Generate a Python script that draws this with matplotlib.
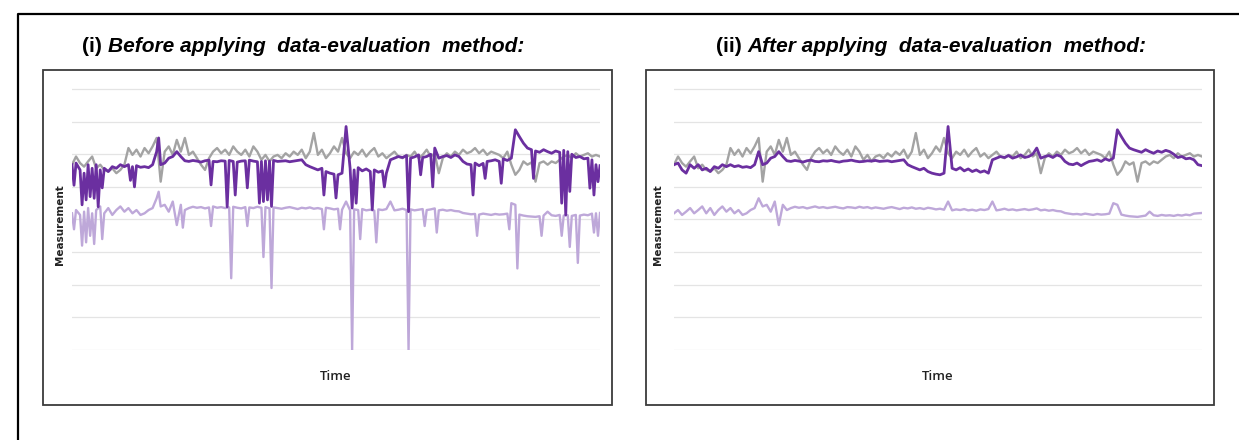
import matplotlib
matplotlib.use("Agg")
from matplotlib import pyplot as plt
from matplotlib.patches import Rectangle
from matplotlib.lines import Line2D
import numpy as np

# grey reference series (same in both panels)
gray = [56.8, 59.3, 57.3, 56.2, 57.8, 59.3, 55.7, 56.8, 55.2, 54.7, 55.7, 54.2, 55.2, 56.8,
        61.9, 59.8, 61.4, 59.3, 61.9, 60.3, 62.4, 65.0, 51.6,
        60.8, 62.4, 59.8, 64.4, 60.8, 65.0, 59.8, 60.8, 58.8, 56.8,
        55.2, 58.8, 60.8, 61.9, 60.3, 61.4, 59.8, 62.4, 60.8, 59.8,
        61.4, 59.3, 62.4, 60.8, 58.3, 59.8, 57.8, 59.3, 59.8, 58.8,
        60.3, 59.3, 60.8, 59.8, 61.4, 58.8, 60.8, 66.5, 59.8, 61.4,
        58.8, 60.3, 62.4, 60.8, 65.0, 60.3, 58.8, 60.8, 59.8, 61.4,
        59.3, 60.8, 61.9, 59.3, 60.3, 58.8, 59.8, 60.8, 59.3, 58.8,
        59.8, 59.3, 60.8, 58.8, 59.8, 61.4, 59.3, 60.3, 54.2, 58.8,
        60.3, 59.3, 60.8, 59.8, 61.4, 60.3, 60.8, 61.9, 60.3, 61.4,
        59.8, 60.8, 60.3, 59.8, 58.8, 60.8, 56.8, 53.7, 55.2, 57.8,
        56.8, 57.5, 51.6, 57.3, 57.8, 56.8, 57.8, 57.3, 58.3, 59.3,
        59.8, 58.8, 60.3, 59.3, 59.8, 60.3, 59.3, 59.8, 59.3]

# dark purple series after evaluation
dark_clean = [56.8, 57.3, 55.2, 54.2, 56.8, 55.7, 56.8, 55.2, 55.7, 54.7, 56.2, 55.7, 56.8,
              56.2, 56.8, 56.2, 56.5, 56.0, 56.2, 55.9, 56.8,
              60.8, 56.8, 57.3, 58.8, 59.3, 60.8, 59.3, 58.0,
              57.8, 58.1, 57.9, 57.6, 58.0, 58.2, 57.8, 57.7, 58.0, 57.9, 58.1, 57.8, 57.6, 57.9,
              58.0, 58.2, 57.9, 57.7, 57.8, 58.0, 57.9, 58.1, 57.8, 57.9, 58.0, 57.7, 57.9, 58.1,
              58.3, 56.8, 56.2, 55.7, 55.2, 55.7, 54.7, 54.2, 53.9, 53.7,
              54.2, 68.5, 55.7, 55.2, 55.9, 54.9, 55.5, 54.7, 55.2, 54.5, 54.9, 54.2, 58.3,
              58.8, 59.3, 59.0, 59.6, 58.8, 59.2, 59.8, 59.0, 59.3, 60.0, 61.9, 58.8, 59.3,
              59.6, 59.0, 59.8, 59.3,
              57.8, 57.0, 56.8, 57.3, 56.5, 57.2, 57.8,
              58.0, 58.3, 57.8, 58.6, 58.1, 58.8,
              67.5,
              65.4, 63.4, 61.9, 61.4,
              61.0, 60.6, 61.4, 60.8, 60.3, 61.0, 60.6, 61.2, 60.8, 60.0,
              59.0, 59.3, 58.6, 58.8, 58.3,
              56.8, 56.5]

# light purple series after evaluation
light_clean = [41.9, 42.9, 41.4, 42.4, 43.5, 41.9, 42.9, 44.0, 41.9, 43.5, 41.4, 42.9, 44.0,
               42.4, 43.5, 41.9, 42.9, 41.4, 41.9, 42.9, 43.5,
               46.5, 44.0, 44.5, 42.4, 45.5, 38.3, 44.5, 42.9,
               43.5, 43.9, 43.6, 43.8, 43.4, 43.7, 44.0, 43.6, 43.8, 43.5, 43.7, 43.9, 43.6,
               43.4, 43.8, 43.7, 43.5, 43.9, 43.6, 43.8, 43.4, 43.7, 43.5, 43.3, 43.6, 43.8,
               43.5, 43.2, 43.6, 43.4, 43.7, 43.3, 43.5, 43.2, 43.6, 43.4, 43.1, 43.3,
               43.0, 45.5, 42.8, 43.1, 42.9, 43.2, 42.8, 43.0, 42.7, 43.1, 42.9, 43.2, 45.5,
               42.8, 43.0, 43.3, 42.9, 43.1, 42.8, 43.0, 43.2, 42.9, 43.1, 43.4, 42.8, 43.0,
               42.7, 42.9, 42.6, 42.5,
               42.0, 41.8, 41.6, 41.7, 41.5, 41.8, 41.6, 41.4, 41.7, 41.5, 41.6, 41.8, 45.0,
               44.5, 41.5, 41.2, 41.0, 40.9, 40.8, 41.0, 41.2, 42.4, 41.3, 41.1, 41.4, 41.2,
               41.3, 41.1, 41.4, 41.2, 41.5, 41.3, 41.8, 41.9, 42.0]

# outlier readings present before evaluation (time position, value)
dark_outliers = [(0.5, 50.5), (2.5, 44.5), (3.5, 46.0), (4.5, 47.0), (5.5, 46.5), (6.5, 43.9),
                 (7.5, 49.7), (14.5, 52.0), (15.5, 50.0), (21.5, 65.0), (34.5, 50.6),
                 (38.5, 43.9), (40.5, 47.5), (43.5, 49.7), (46.5, 45.0), (47.5, 45.5),
                 (48.5, 46.0), (49.5, 44.0), (62.5, 47.5), (65.5, 46.6), (69.5, 43.5),
                 (70.5, 45.0), (74.5, 43.0), (77.5, 50.0), (83.5, 42.4), (86.5, 53.7),
                 (89.5, 50.0), (99.5, 47.5), (102.5, 52.6), (106.5, 51.1), (114.5, 52.6),
                 (121.5, 45.0), (122.5, 41.4), (123.5, 48.6), (128.5, 49.6), (129.5, 47.5),
                 (130.5, 51.6)]
light_outliers = [(0.5, 37.0), (2.5, 32.0), (3.5, 33.0), (4.5, 35.0), (5.5, 32.5), (7.5, 34.0),
                  (21.5, 48.5), (27.5, 37.5), (34.5, 38.0), (39.5, 22.0), (43.5, 38.0),
                  (47.5, 28.5), (49.5, 19.0), (62.5, 37.0), (66.5, 37.0), (69.5, 0.0),
                  (71.5, 34.0), (75.5, 33.0), (83.5, 0.0), (87.5, 38.0), (90.5, 36.0),
                  (100.5, 35.0), (108.5, 37.0), (110.5, 25.0), (116.5, 35.0), (121.5, 35.0),
                  (123.5, 31.6), (125.5, 26.7), (129.5, 36.0), (130.5, 35.0)]

titles = [("(i) ", "Before applying  data-evaluation  method:"),
          ("(ii) ", "After applying  data-evaluation  method:")]


def with_outliers(base, outliers):
    pts = sorted(list(enumerate(base)) + list(outliers))
    xs, ys = zip(*pts)
    return np.array(xs, dtype=float), np.array(ys)


x = np.arange(len(gray))
dark_raw = with_outliers(dark_clean, dark_outliers)
light_raw = with_outliers(light_clean, light_outliers)

W, H = 1239, 440
fig = plt.figure(figsize=(W / 100, H / 100), dpi=100)


def fx(px):
    return px / W


def fy(py):
    return (H - py) / H


# outer frame (left and top)
fig.add_artist(Line2D([fx(18), fx(18), fx(1239)], [fy(440), fy(14), fy(14)],
                      color="black", lw=1.6, transform=fig.transFigure))

panels = [
    dict(box=(43, 612), plot=(72, 600), dark=dark_raw, light=light_raw,
         title_cx=303, ylab_x=60, time_x=336),
    dict(box=(646, 1214), plot=(674, 1202), dark=(x, dark_clean), light=(x, light_clean),
         title_cx=931, ylab_x=658, time_x=938),
]

top_px, bot_px = 89, 350  # pixel rows of gridlines 80 and 0

for p in panels:
    b0, b1 = p["box"]
    fig.add_artist(Rectangle((fx(b0), fy(405)), fx(b1 - b0), (405 - 70) / H,
                             fill=False, ec="#3c3c3c", lw=1.3, transform=fig.transFigure))

    p0, p1 = p["plot"]
    ymax = 82
    unit = (bot_px - top_px) / 80
    ax = fig.add_axes([fx(p0), fy(bot_px), fx(p1 - p0), ymax * unit / H])
    ax.set_xlim(0, len(gray) - 1)
    ax.set_ylim(0, ymax)
    ax.set_yticks(np.arange(0, 81, 10))
    ax.set_xticks([])
    ax.tick_params(left=False, labelleft=False)
    for s in ax.spines.values():
        s.set_visible(False)
    ax.grid(axis="y", color="#e4e4e4", lw=0.9)
    ax.set_axisbelow(True)

    ax.plot(*p["light"], color="#bea8d9", lw=1.7, zorder=2)
    ax.plot(x, gray, color="#a3a3a3", lw=1.7, zorder=3)
    ax.plot(*p["dark"], color="#6b2fa0", lw=2.0, zorder=4)

    fig.text(fx(p["ylab_x"]), fy(225), "Measurement", rotation=90, ha="center", va="center",
             fontsize=7.5, fontweight="bold", color="#222222")
    fig.text(fx(p["time_x"]), fy(376), "Time", ha="center", va="center",
             fontsize=9.5, fontweight="semibold", family="Open Sans", color="#222222")

# titles: upright numeral then bold italic text
fig.canvas.draw()
renderer = fig.canvas.get_renderer()
for (lead, rest), p in zip(titles, panels):
    t1 = fig.text(0, fy(47), lead, ha="left", va="center", fontsize=15,
                  fontweight="bold", family="Liberation Sans")
    t2 = fig.text(0, fy(47), rest, ha="left", va="center", fontsize=15,
                  fontweight="bold", style="italic", family="Liberation Sans")
    w1 = t1.get_window_extent(renderer).width
    w2 = t2.get_window_extent(renderer).width
    start = p["title_cx"] - (w1 + w2) / 2
    t1.set_x(fx(start))
    t2.set_x(fx(start + w1))

fig.savefig("out.png", dpi=100)
